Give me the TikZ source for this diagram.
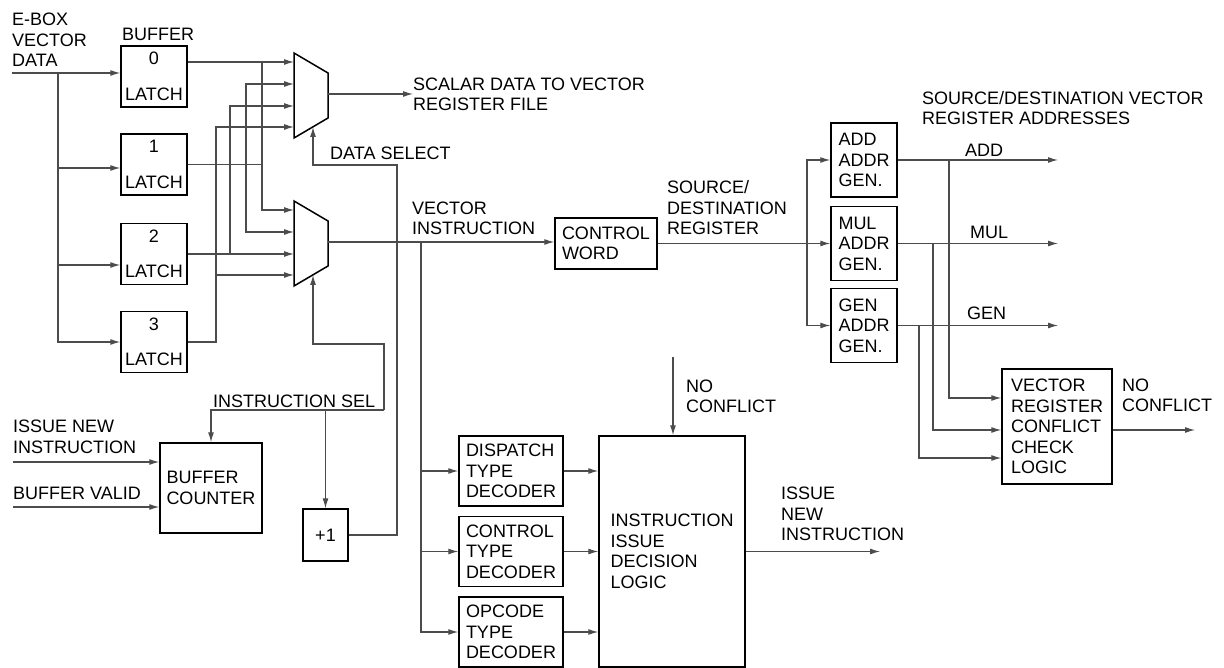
\documentclass[tikz,border=0pt]{standalone}
\usepackage{fontspec}
\setmainfont{Liberation Sans}
\usetikzlibrary{arrows.meta}

\begin{document}
\begin{tikzpicture}[x=1pt, y=-1pt,
			>={Latex[length=10pt,width=6pt]},
			font=\fontsize{18}{20.5}\selectfont,
			blk/.style={draw, line width=1.5pt, inner sep=0pt, align=left},
			wire/.style={line width=1.1pt, black!70},
			lbl/.style={inner sep=0pt, align=left},
			mux/.pic={
				\draw[line width=1.5pt] (0,0) -- (34,20) -- (34,65) -- (0,85) -- cycle;
				\coordinate (-i1) at (0,9);
				\coordinate (-i2) at (0,31);
				\coordinate (-i3) at (0,53);
				\coordinate (-i4) at (0,74);
				\coordinate (-o) at (34,41);
				\coordinate (-s) at (19,74);
			}
			]
			\useasboundingbox (0,0) rectangle (1224,668);
			
			% Buffer latches
			\node[lbl, anchor=west] (EBox) at (12,40) {E-BOX\\VECTOR\\DATA};
			\node[lbl, anchor=base west] (BufLbl) at (122,41) {BUFFER};
			\node[blk, minimum width=66, minimum height=61, align=center] (Latch0) at (154,76.5) {0\\[15pt]LATCH};
			\node[blk, minimum width=66, minimum height=61, align=center] (Latch1) at (154,164.5) {1\\[15pt]LATCH};
			\node[blk, minimum width=66, minimum height=61, align=center] (Latch2) at (154,254) {2\\[15pt]LATCH};
			\node[blk, minimum width=66, minimum height=61, align=center] (Latch3) at (154,342) {3\\[15pt]LATCH};
			
			\coordinate (EIn) at (12,73);
			\coordinate (EBus) at (58,73);
			\draw[wire,->] (EIn) -- (EIn -| Latch0.west);
			\draw[wire,->] (EBus) |- ([yshift=-3.5pt]Latch1.west);
			\draw[wire,->] (EBus) |- ([yshift=-11pt]Latch2.west);
			\draw[wire,->] (EBus) |- (Latch3.west);
			
			% Multiplexers
			\pic (MuxA) at (294,53) {mux};
			\pic (MuxB) at (294,201) {mux};
			
			\coordinate (BusA) at (262,0);
			\coordinate (BusB) at (246,0);
			\coordinate (BusC) at (230,0);
			\coordinate (BusD) at (216,0);
			\draw[wire,->] (Latch0.east |- MuxA-i1) -- (MuxA-i1);
			\draw[wire,->] (BusA |- MuxA-i1) |- (MuxB-i1);
			\draw[wire] (Latch1.east) -- (BusA |- Latch1.east);
			\draw[wire,<->] (MuxA-i2) -| (BusB |- MuxB-i2) -- (MuxB-i2);
			\draw[wire,<->] (MuxA-i3) -| (BusC |- MuxB-i3) -- (MuxB-i3);
			\draw[wire] (Latch2.east |- MuxB-i3) -- (BusC |- MuxB-i3);
			\draw[wire,->] (Latch3.east) -| (BusD |- MuxA-i4) -- (MuxA-i4);
			\draw[wire,->] (BusD |- MuxB-i4) -- (MuxB-i4);
			
			\node[lbl, anchor=west] (Scalar) at (413,94.5) {SCALAR DATA TO VECTOR\\REGISTER FILE};
			\draw[wire,->] (MuxA-o) -- (MuxA-o -| Scalar.west);
			
			% Select logic
			\node[blk, minimum width=45, minimum height=52, align=center] (Plus) at (325.5,535) {+1};
			\node[blk, minimum width=102, minimum height=90] (Counter) at (211,488) {BUFFER\\COUNTER};
			\node[lbl, anchor=base west] (DSelLbl) at (330,159.5) {DATA SELECT};
			\node[lbl, anchor=base west] (ISelLbl) at (213,407) {INSTRUCTION SEL};
			
			\coordinate (DSel) at (397,165);
			\draw[wire,->] (Plus.east) -| (DSel) -| (MuxA-s);
			\coordinate (ISel) at (384,410);
			\coordinate (ISelTop) at (384,344);
			\draw[wire,->] (ISel) -- (ISelTop) -| (MuxB-s);
			\draw[wire,->] (ISel) -| (Counter.north);
			\draw[wire,->] (Plus.north |- ISel) -- (Plus.north);
			
			\node[lbl, anchor=west] (IssLbl) at (13,437) {ISSUE NEW\\INSTRUCTION};
			\node[lbl, anchor=base west] (ValLbl) at (13,499.5) {BUFFER VALID};
			\coordinate (IssIn) at (13,462);
			\coordinate (ValIn) at (13,507);
			\draw[wire,->] (IssIn) -- (IssIn -| Counter.west);
			\draw[wire,->] (ValIn) -- (ValIn -| Counter.west);
			
			% Vector instruction path
			\node[blk, minimum width=102, minimum height=51] (CWord) at (606,243.5) {CONTROL\\WORD};
			\node[lbl, anchor=west] (VecLbl) at (412,218.5) {VECTOR\\INSTRUCTION};
			\draw[wire,->] (MuxB-o) -- (MuxB-o -| CWord.west);
			
			\node[blk, minimum width=104, minimum height=70] (Dispatch) at (511,471) {DISPATCH\\TYPE\\DECODER};
			\node[blk, minimum width=104, minimum height=70] (CtrlDec) at (511,551.5) {CONTROL\\TYPE\\DECODER};
			\node[blk, minimum width=104, minimum height=70] (Opcode) at (511,632) {OPCODE\\TYPE\\DECODER};
			\node[blk, minimum width=146, minimum height=231] (Decision) at (672,551.5) {INSTRUCTION\\ISSUE\\DECISION\\LOGIC};
			
			\coordinate (VBus) at (421,242);
			\draw[wire,->] (VBus) |- (Dispatch.west);
			\draw[wire,->] (VBus) |- (CtrlDec.west);
			\draw[wire,->] (VBus) |- (Opcode.west);
			\draw[wire,->] (Dispatch.east) -- (Dispatch.east -| Decision.west);
			\draw[wire,->] (CtrlDec.east) -- (CtrlDec.east -| Decision.west);
			\draw[wire,->] (Opcode.east) -- (Opcode.east -| Decision.west);
			
			\coordinate (NoConfIn) at (673,357);
			\draw[wire,->] (NoConfIn) -- (NoConfIn |- Decision.north);
			\node[lbl, anchor=west] (NoConfLbl) at (686,396.5) {NO\\CONFLICT};
			\coordinate (IssOut) at (880,551.5);
			\draw[wire,->] (Decision.east) -- (IssOut);
			\node[lbl, anchor=west] (IssOutLbl) at (781,514) {ISSUE\\NEW\\INSTRUCTION};
			
			% Address generators
			\node[lbl, anchor=west] (SrcLbl) at (667,208) {SOURCE/\\DESTINATION\\REGISTER};
			\node[blk, minimum width=66, minimum height=74] (AddGen) at (864,160) {ADD\\ADDR\\GEN.};
			\node[blk, minimum width=66, minimum height=74] (MulGen) at (864,243.5) {MUL\\ADDR\\GEN.};
			\node[blk, minimum width=66, minimum height=74] (GenGen) at (864,325.5) {GEN\\ADDR\\GEN.};
			
			\coordinate (ABus) at (807,243.5);
			\draw[wire,->] (CWord.east) -- (MulGen.west);
			\draw[wire,->] (ABus) |- (AddGen.west);
			\draw[wire,->] (ABus) |- (GenGen.west);
			
			\node[lbl, anchor=west] (AddrLbl) at (922,108) {SOURCE/DESTINATION VECTOR\\REGISTER ADDRESSES};
			\coordinate (AddOut) at (1058,160);
			\coordinate (MulOut) at (1058,243.5);
			\coordinate (GenOut) at (1058,325.5);
			\draw[wire,->] (AddGen.east) -- (AddOut);
			\draw[wire,->] (MulGen.east) -- (MulOut);
			\draw[wire,->] (GenGen.east) -- (GenOut);
			\node[lbl, anchor=base west] (AddLbl) at (965,157) {ADD};
			\node[lbl, anchor=base west] (MulLbl) at (970,238.5) {MUL};
			\node[lbl, anchor=base west] (GenLbl) at (967,319.5) {GEN};
			
			% Conflict check
			\node[blk, minimum width=110, minimum height=115] (Check) at (1057,426.5) {VECTOR\\REGISTER\\CONFLICT\\CHECK\\LOGIC};
			\coordinate (TapA) at (949,160);
			\coordinate (TapM) at (933,243.5);
			\coordinate (TapG) at (919,325.5);
			\draw[wire,->] (TapA) |- ([yshift=28.5pt]Check.west);
			\draw[wire,->] (TapM) |- ([yshift=-3.5pt]Check.west);
			\draw[wire,->] (TapG) |- ([yshift=-31.5pt]Check.west);
			\coordinate (ChkOut) at (1195,430);
			\draw[wire,->] ([yshift=-3.5pt]Check.east) -- (ChkOut);
			\node[lbl, anchor=west] (ChkLbl) at (1122,395.5) {NO\\CONFLICT};
			
		\end{tikzpicture}
\end{document}
